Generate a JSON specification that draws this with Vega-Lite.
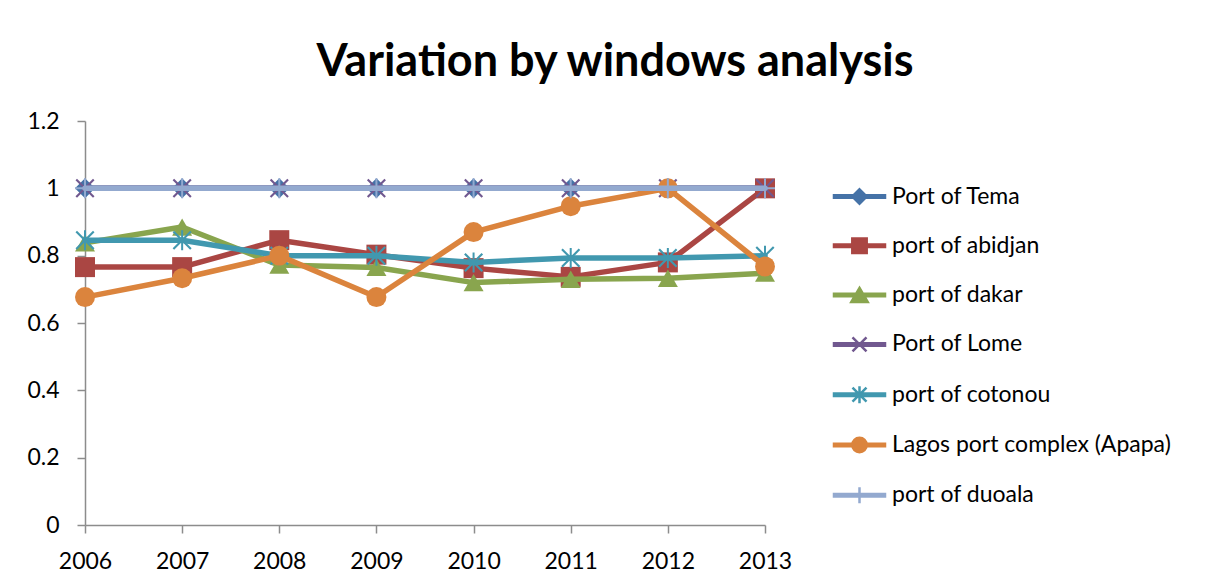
{
  "$schema": "https://vega.github.io/schema/vega-lite/v6.json",
  "autosize": {"type": "none"},
  "padding": {"left": 85, "top": 121, "right": 448, "bottom": 62},
  "width": 680,
  "height": 404,
  "background": "white",
  "title": {
    "text": "Variation by windows analysis",
    "font": "Lato",
    "fontSize": 45,
    "fontWeight": "bold",
    "color": "#000000",
    "anchor": "middle",
    "dx": 190,
    "baseline": "alphabetic",
    "offset": -11
  },
  "config": {
    "view": {"stroke": null},
    "axis": {
      "labelFont": "Lato",
      "labelFontSize": 23,
      "labelColor": "#000000",
      "domainColor": "#8c8c8c",
      "tickColor": "#8c8c8c",
      "domainWidth": 1.5,
      "tickWidth": 1.5,
      "grid": false,
      "title": null
    }
  },
  "data": {
    "values": [
      {"year": "2006", "port": "Port of Tema", "value": 1},
      {"year": "2007", "port": "Port of Tema", "value": 1},
      {"year": "2008", "port": "Port of Tema", "value": 1},
      {"year": "2009", "port": "Port of Tema", "value": 1},
      {"year": "2010", "port": "Port of Tema", "value": 1},
      {"year": "2011", "port": "Port of Tema", "value": 1},
      {"year": "2012", "port": "Port of Tema", "value": 1},
      {"year": "2013", "port": "Port of Tema", "value": 1},
      {"year": "2006", "port": "port of abidjan", "value": 0.766},
      {"year": "2007", "port": "port of abidjan", "value": 0.766},
      {"year": "2008", "port": "port of abidjan", "value": 0.846},
      {"year": "2009", "port": "port of abidjan", "value": 0.803},
      {"year": "2010", "port": "port of abidjan", "value": 0.763},
      {"year": "2011", "port": "port of abidjan", "value": 0.737},
      {"year": "2012", "port": "port of abidjan", "value": 0.78},
      {"year": "2013", "port": "port of abidjan", "value": 1},
      {"year": "2006", "port": "port of dakar", "value": 0.838},
      {"year": "2007", "port": "port of dakar", "value": 0.885},
      {"year": "2008", "port": "port of dakar", "value": 0.772},
      {"year": "2009", "port": "port of dakar", "value": 0.765},
      {"year": "2010", "port": "port of dakar", "value": 0.72},
      {"year": "2011", "port": "port of dakar", "value": 0.73},
      {"year": "2012", "port": "port of dakar", "value": 0.733},
      {"year": "2013", "port": "port of dakar", "value": 0.748},
      {"year": "2006", "port": "Port of Lome", "value": 1},
      {"year": "2007", "port": "Port of Lome", "value": 1},
      {"year": "2008", "port": "Port of Lome", "value": 1},
      {"year": "2009", "port": "Port of Lome", "value": 1},
      {"year": "2010", "port": "Port of Lome", "value": 1},
      {"year": "2011", "port": "Port of Lome", "value": 1},
      {"year": "2012", "port": "Port of Lome", "value": 1},
      {"year": "2013", "port": "Port of Lome", "value": 1},
      {"year": "2006", "port": "port of cotonou", "value": 0.846},
      {"year": "2007", "port": "port of cotonou", "value": 0.846},
      {"year": "2008", "port": "port of cotonou", "value": 0.8},
      {"year": "2009", "port": "port of cotonou", "value": 0.8},
      {"year": "2010", "port": "port of cotonou", "value": 0.78},
      {"year": "2011", "port": "port of cotonou", "value": 0.793},
      {"year": "2012", "port": "port of cotonou", "value": 0.793},
      {"year": "2013", "port": "port of cotonou", "value": 0.8},
      {"year": "2006", "port": "Lagos port complex (Apapa)", "value": 0.677},
      {"year": "2007", "port": "Lagos port complex (Apapa)", "value": 0.733},
      {"year": "2008", "port": "Lagos port complex (Apapa)", "value": 0.8},
      {"year": "2009", "port": "Lagos port complex (Apapa)", "value": 0.677},
      {"year": "2010", "port": "Lagos port complex (Apapa)", "value": 0.87},
      {"year": "2011", "port": "Lagos port complex (Apapa)", "value": 0.947},
      {"year": "2012", "port": "Lagos port complex (Apapa)", "value": 1},
      {"year": "2013", "port": "Lagos port complex (Apapa)", "value": 0.768},
      {"year": "2006", "port": "port of duoala", "value": 1},
      {"year": "2007", "port": "port of duoala", "value": 1},
      {"year": "2008", "port": "port of duoala", "value": 1},
      {"year": "2009", "port": "port of duoala", "value": 1},
      {"year": "2010", "port": "port of duoala", "value": 1},
      {"year": "2011", "port": "port of duoala", "value": 1},
      {"year": "2012", "port": "port of duoala", "value": 1},
      {"year": "2013", "port": "port of duoala", "value": 1}
    ]
  },
  "encoding": {
    "x": {
      "field": "year",
      "type": "ordinal",
      "scale": {"type": "point", "padding": 0},
      "axis": {"labelAngle": 0, "tickSize": 8, "labelPadding": 17}
    },
    "y": {
      "field": "value",
      "type": "quantitative",
      "scale": {"domain": [0, 1.2], "nice": false, "zero": true},
      "axis": {"values": [0, 0.2, 0.4, 0.6, 0.8, 1, 1.2], "format": "~g", "tickSize": 8, "labelPadding": 18}
    },
    "color": {
      "field": "port",
      "type": "nominal",
      "sort": ["Port of Tema", "port of abidjan", "port of dakar", "Port of Lome", "port of cotonou", "Lagos port complex (Apapa)", "port of duoala"],
      "scale": {
        "domain": ["Port of Tema", "port of abidjan", "port of dakar", "Port of Lome", "port of cotonou", "Lagos port complex (Apapa)", "port of duoala"],
        "range": ["#4572A7", "#AA4643", "#89A54E", "#71588F", "#4198AF", "#DB843D", "#93A9CF"]
      },
      "legend": {
        "title": null,
        "orient": "none",
        "legendX": 763,
        "legendY": 64,
        "labelFont": "Lato",
        "labelFontSize": 23,
        "labelColor": "#000000",
        "labelLimit": 400,
        "symbolSize": 400,
        "symbolOpacity": 1,
        "symbolStrokeWidth": 2.5,
        "labelOffset": 21,
        "rowPadding": 24.3
      }
    }
  },
  "layer": [
    {
      "mark": {"type": "point", "filled": true, "opacity": 0},
      "encoding": {
        "shape": {
          "field": "port",
          "type": "nominal",
          "sort": ["Port of Tema", "port of abidjan", "port of dakar", "Port of Lome", "port of cotonou", "Lagos port complex (Apapa)", "port of duoala"],
          "scale": {
            "domain": ["Port of Tema", "port of abidjan", "port of dakar", "Port of Lome", "port of cotonou", "Lagos port complex (Apapa)", "port of duoala"],
            "range": [
              "M-2.55,-0.125 L2.55,-0.125 L2.55,0.125 L-2.55,0.125 Z M0,-0.72 L0.72,0 L0,0.72 L-0.72,0 Z M0,-0.47 L0.47,0 L0,0.47 L-0.47,0 Z M0,-0.22 L0.22,0 L0,0.22 L-0.22,0 Z",
              "M-2.55,-0.125 L2.55,-0.125 L2.55,0.125 L-2.55,0.125 Z M-0.72,-0.72 L0.72,-0.72 L0.72,0.72 L-0.72,0.72 Z M-0.47,-0.47 L0.47,-0.47 L0.47,0.47 L-0.47,0.47 Z M-0.22,-0.22 L0.22,-0.22 L0.22,0.22 L-0.22,0.22 Z M-0.05,-0.05 L0.05,-0.05 L0.05,0.05 L-0.05,0.05 Z",
              "M-2.55,-0.125 L2.55,-0.125 L2.55,0.125 L-2.55,0.125 Z M0,-0.72 L0.82,0.68 L-0.82,0.68 Z M0,-0.395 L0.533,0.516 L-0.533,0.516 Z M0,-0.069 L0.246,0.351 L-0.246,0.351 Z",
              "M-2.55,-0.125 L2.55,-0.125 L2.55,0.125 L-2.55,0.125 Z M-0.7,-0.7 L0.7,0.7 M0.7,-0.7 L-0.7,0.7",
              "M-2.55,-0.125 L2.55,-0.125 L2.55,0.125 L-2.55,0.125 Z M-0.7,-0.7 L0.7,0.7 M0.7,-0.7 L-0.7,0.7 M0,-0.85 L0,0.85",
              "M-2.55,-0.125 L2.55,-0.125 L2.55,0.125 L-2.55,0.125 Z M0.72,0 A0.72,0.72 0 1,1 -0.72,0 A0.72,0.72 0 1,1 0.72,0 Z M0.47,0 A0.47,0.47 0 1,1 -0.47,0 A0.47,0.47 0 1,1 0.47,0 Z M0.22,0 A0.22,0.22 0 1,1 -0.22,0 A0.22,0.22 0 1,1 0.22,0 Z M0.05,0 A0.05,0.05 0 1,1 -0.05,0 A0.05,0.05 0 1,1 0.05,0 Z",
              "M-2.55,-0.125 L2.55,-0.125 L2.55,0.125 L-2.55,0.125 Z M0,-0.8 L0,0.8"
            ]
          }
        }
      }
    },
    {"transform": [{"filter": "datum.port === 'Port of Tema'"}], "mark": {"type": "line", "strokeWidth": 5.5, "strokeCap": "round", "strokeJoin": "round"}},
    {"transform": [{"filter": "datum.port === 'Port of Tema'"}], "mark": {"type": "point", "shape": "diamond", "filled": true, "size": 400, "opacity": 1}},
    {"transform": [{"filter": "datum.port === 'port of abidjan'"}], "mark": {"type": "line", "strokeWidth": 5.5, "strokeCap": "round", "strokeJoin": "round"}},
    {"transform": [{"filter": "datum.port === 'port of abidjan'"}], "mark": {"type": "point", "shape": "square", "filled": true, "size": 400, "opacity": 1}},
    {"transform": [{"filter": "datum.port === 'port of dakar'"}], "mark": {"type": "line", "strokeWidth": 5.5, "strokeCap": "round", "strokeJoin": "round"}},
    {"transform": [{"filter": "datum.port === 'port of dakar'"}], "mark": {"type": "point", "shape": "triangle-up", "filled": true, "size": 400, "opacity": 1}},
    {"transform": [{"filter": "datum.port === 'Port of Lome'"}], "mark": {"type": "line", "strokeWidth": 5.5, "strokeCap": "round", "strokeJoin": "round"}},
    {"transform": [{"filter": "datum.port === 'Port of Lome'"}], "mark": {"type": "point", "shape": "M-0.95,-0.8 L-0.8,-0.95 L0.95,0.8 L0.8,0.95 Z M0.8,-0.95 L0.95,-0.8 L-0.8,0.95 L-0.95,0.8 Z", "filled": true, "size": 400, "opacity": 1}},
    {"transform": [{"filter": "datum.port === 'port of cotonou'"}], "mark": {"type": "line", "strokeWidth": 5.5, "strokeCap": "round", "strokeJoin": "round"}},
    {"transform": [{"filter": "datum.port === 'port of cotonou'"}], "mark": {"type": "point", "shape": "M-0.95,-0.8 L-0.8,-0.95 L0.95,0.8 L0.8,0.95 Z M0.8,-0.95 L0.95,-0.8 L-0.8,0.95 L-0.95,0.8 Z M-0.1,-1 L0.1,-1 L0.1,1 L-0.1,1 Z", "filled": true, "size": 400, "opacity": 1}},
    {"transform": [{"filter": "datum.port === 'Lagos port complex (Apapa)'"}], "mark": {"type": "line", "strokeWidth": 5.5, "strokeCap": "round", "strokeJoin": "round"}},
    {"transform": [{"filter": "datum.port === 'Lagos port complex (Apapa)'"}], "mark": {"type": "point", "shape": "circle", "filled": true, "size": 400, "opacity": 1}},
    {"transform": [{"filter": "datum.port === 'port of duoala'"}], "mark": {"type": "line", "strokeWidth": 5.5, "strokeCap": "round", "strokeJoin": "round"}},
    {"transform": [{"filter": "datum.port === 'port of duoala'"}], "mark": {"type": "point", "shape": "M-0.1,-1 L0.1,-1 L0.1,1 L-0.1,1 Z M-1,-0.1 L1,-0.1 L1,0.1 L-1,0.1 Z", "filled": true, "size": 400, "opacity": 1}}
  ]
}
